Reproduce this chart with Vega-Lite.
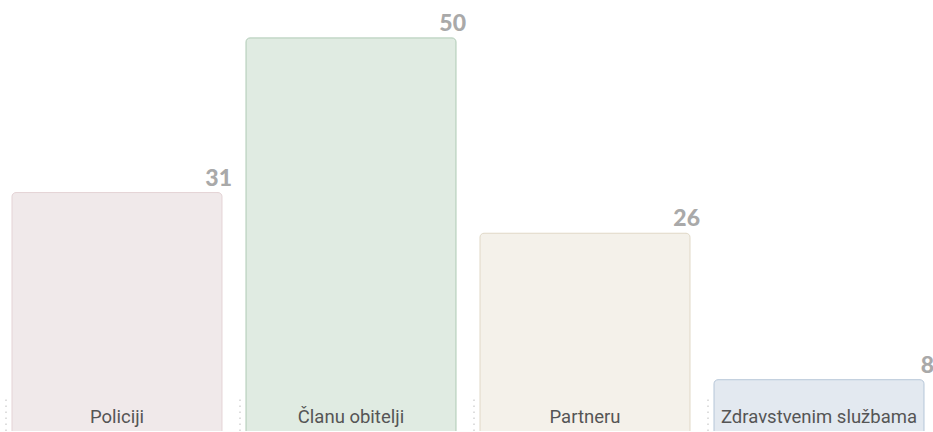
{
  "$schema": "https://vega.github.io/schema/vega-lite/v6.json",
  "width": 933,
  "height": 432,
  "autosize": {"type": "fit", "contains": "padding"},
  "padding": 0,
  "background": "#ffffff",
  "config": {"view": {"stroke": null}},
  "data": {
    "values": [
      {"cat": "Policiji", "value": 31, "fill": "#f0e9ea", "stroke": "#e4d3d5"},
      {"cat": "Članu obitelji", "value": 50, "fill": "#e0ebe2", "stroke": "#aecab4"},
      {"cat": "Partneru", "value": 26, "fill": "#f4f1ea", "stroke": "#e0d8c6"},
      {"cat": "Zdravstvenim službama", "value": 8, "fill": "#e3e9f0", "stroke": "#b5c6d8"}
    ]
  },
  "encoding": {
    "x": {
      "field": "cat",
      "type": "nominal",
      "sort": null,
      "axis": null,
      "scale": {"range": [0, 936], "paddingInner": 0.1026, "paddingOuter": 0.0513}
    }
  },
  "layer": [
    {
      "mark": {"type": "rule", "strokeDash": [1.5, 4.5], "strokeWidth": 1, "color": "#bdbdbd", "xOffset": -6},
      "encoding": {
        "x": {"field": "cat", "type": "nominal", "sort": null, "bandPosition": 0},
        "y": {"datum": 1.7, "type": "quantitative", "scale": {"domain": [1.7, 54.66], "nice": false, "zero": false}, "axis": null},
        "y2": {"datum": 5.6}
      }
    },
    {
      "mark": {"type": "bar", "clip": true, "cornerRadiusTopLeft": 4, "cornerRadiusTopRight": 4, "strokeWidth": 1},
      "encoding": {
        "y": {"field": "value", "type": "quantitative", "axis": null},
        "y2": {"datum": 0},
        "fill": {"field": "fill", "type": "nominal", "scale": null},
        "stroke": {"field": "stroke", "type": "nominal", "scale": null}
      }
    },
    {
      "mark": {"type": "text", "align": "right", "baseline": "alphabetic", "dx": 10, "dy": -7, "font": "Lato", "fontWeight": 900, "fontSize": 23, "color": "#a9a9a9"},
      "encoding": {
        "x": {"field": "cat", "type": "nominal", "sort": null, "bandPosition": 1},
        "y": {"field": "value", "type": "quantitative"},
        "text": {"field": "value", "type": "quantitative"}
      }
    },
    {
      "mark": {"type": "text", "align": "center", "baseline": "alphabetic", "dy": -8, "font": "Roboto", "fontWeight": "normal", "fontSize": 18.5, "color": "#555555"},
      "encoding": {
        "y": {"datum": 1.7},
        "text": {"field": "cat", "type": "nominal"}
      }
    }
  ]
}
